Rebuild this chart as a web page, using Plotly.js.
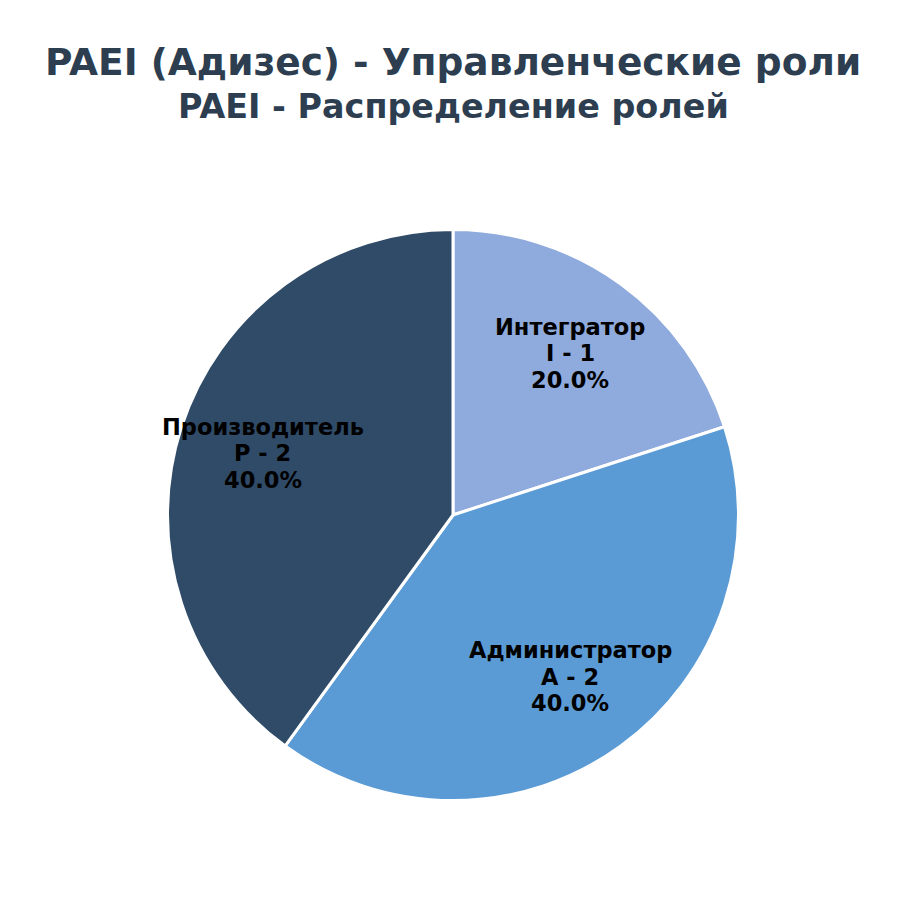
<!DOCTYPE html>
<html>
<head>
<meta charset="utf-8">
<script src="https://cdn.plot.ly/plotly-3.0.1.min.js"></script>
<style>html,body{margin:0;padding:0;background:#fff;}#chart{width:906px;height:918px;}</style>
</head>
<body>
<div id="chart"></div>
<script>
const roleNames = ['Интегратор', 'Администратор', 'Производитель'];
const roleCodes = ['I', 'A', 'P'];
const roleCounts = [1, 2, 2];
const sliceColors = ['#8FAADC', '#5B9BD5', '#2F4B68'];
const titleMain = 'PAEI (Адизес) - Управленческие роли';
const titleSub = 'PAEI - Распределение ролей';

const W = 906, H = 918;
const cxPx = 453, cyPx = 515, rPx = 285.5;
const domX = [(cxPx - rPx) / W, (cxPx + rPx) / W];
const domY = [(H - cyPx - rPx) / H, (H - cyPx + rPx) / H];

const total = roleCounts.reduce((a, b) => a + b, 0);
const annotations = [];
const lineGap = 26.5;
let cum = 0;
roleCounts.forEach((v, i) => {
  const mid = (cum + v / 2) / total * 2 * Math.PI; // clockwise from 12 o'clock
  cum += v;
  const xp = cxPx + 0.7 * rPx * Math.sin(mid);
  const yp = cyPx - 0.7 * rPx * Math.cos(mid);
  const lines = [roleNames[i], roleCodes[i] + ' - ' + v, (v / total * 100).toFixed(1) + '%'];
  lines.forEach((t, k) => {
    annotations.push({
      x: xp / W, y: 1 - yp / H, xref: 'paper', yref: 'paper',
      xanchor: 'center', yanchor: 'middle', showarrow: false,
      yshift: (1 - k) * lineGap,
      text: '<b>' + t + '</b>',
      font: {family: 'DejaVu Sans', size: 22.5, color: '#000000'},
      align: 'center'
    });
  });
});

// titles
annotations.push({
  x: 0.5, y: 1 - 62 / H, xref: 'paper', yref: 'paper', xanchor: 'center', yanchor: 'middle',
  showarrow: false, text: '<b>' + titleMain + '</b>',
  font: {family: 'DejaVu Sans', size: 37.5, color: '#2C3E50'}
});
annotations.push({
  x: 0.5, y: 1 - 106 / H, xref: 'paper', yref: 'paper', xanchor: 'center', yanchor: 'middle',
  showarrow: false, text: '<b>' + titleSub + '</b>',
  font: {family: 'DejaVu Sans', size: 33.4, color: '#2C3E50'}
});

const data = [{
  type: 'pie',
  labels: roleNames,
  values: roleCounts,
  sort: false,
  direction: 'clockwise',
  rotation: 0,
  marker: {colors: sliceColors, line: {color: '#ffffff', width: 3}},
  textinfo: 'none',
  hoverinfo: 'label+value+percent',
  domain: {x: domX, y: domY},
  showlegend: false
}];

const layout = {
  width: W, height: H,
  margin: {l: 0, r: 0, t: 0, b: 0},
  paper_bgcolor: '#ffffff',
  showlegend: false,
  annotations: annotations
};

Plotly.newPlot('chart', data, layout, {displayModeBar: false, staticPlot: true});
</script>
</body>
</html>
